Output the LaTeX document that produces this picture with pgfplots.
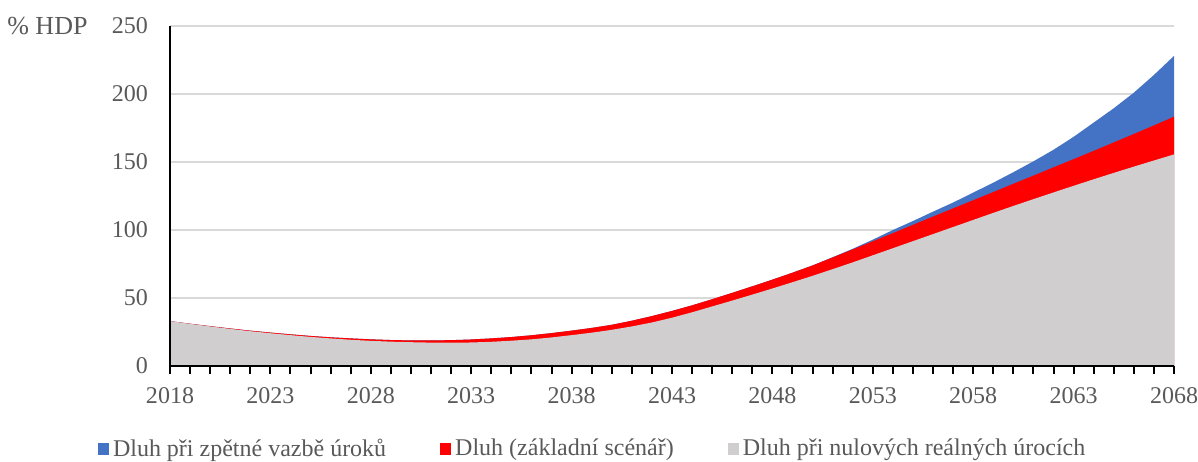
\documentclass[border=0pt]{standalone}
\usepackage{fontspec}
\setmainfont{Liberation Serif}
\usepackage{pgfplots}
\usepackage{pgfplotstable}
\pgfplotsset{compat=1.18}
\definecolor{cblue}{HTML}{4472C4}
\definecolor{cred}{HTML}{FF0000}
\definecolor{cgray}{HTML}{D0CECE}
\definecolor{ctext}{HTML}{595959}
\definecolor{cgrid}{HTML}{D9D9D9}
\pgfplotstableread{
year zero base feedback
2018 33.0 33.0 33.0
2019 31.0 31.1 31.1
2020 29.1 29.3 29.3
2021 27.3 27.6 27.6
2022 25.6 26.0 26.0
2023 24.1 24.6 24.6
2024 22.7 23.3 23.3
2025 21.4 22.1 22.1
2026 20.3 21.1 21.1
2027 19.3 20.3 20.3
2028 18.5 19.6 19.6
2029 17.9 19.1 19.1
2030 17.5 18.8 18.8
2031 17.2 18.8 18.8
2032 17.1 19.0 19.0
2033 17.3 19.5 19.5
2034 17.8 20.3 20.3
2035 18.6 21.3 21.3
2036 19.6 22.6 22.6
2037 21.0 24.2 24.2
2038 22.7 26.0 26.0
2039 24.5 28.0 28.0
2040 26.6 30.3 30.3
2041 29.1 33.3 33.3
2042 32.0 36.7 36.7
2043 35.5 40.5 40.5
2044 39.5 44.6 44.6
2045 43.8 49.1 49.1
2046 48.1 53.8 53.8
2047 52.5 58.6 58.6
2048 57.0 63.5 63.5
2049 61.6 68.6 68.6
2050 66.3 73.9 74.0
2051 71.2 79.8 80.0
2052 76.2 85.7 86.2
2053 81.4 91.7 92.9
2054 86.6 97.7 100.0
2055 91.8 103.8 106.6
2056 97.0 109.9 113.5
2057 102.2 115.9 120.2
2058 107.4 121.9 127.5
2059 112.6 127.9 134.8
2060 117.7 134.0 142.5
2061 122.7 140.0 150.5
2062 127.6 146.1 159.0
2063 132.5 152.1 168.5
2064 137.3 158.2 179.0
2065 142.0 164.4 189.5
2066 146.6 170.6 201.0
2067 151.1 176.9 214.0
2068 155.6 183.3 228.0
}\debt
\begin{document}
\begin{tikzpicture}
\path[use as bounding box] (-85pt,-47.5pt) rectangle (514pt,183pt);
\begin{axis}[
  at={(0pt,0pt)}, anchor=origin,
  scale only axis,
  width=502pt, height=170pt,
  xmin=2018, xmax=2068, ymin=0, ymax=250,
  axis x line=bottom, axis y line=left,
  axis line style={-, black, line width=1.2pt},
  xtick={2018,2023,...,2068},
  minor x tick num=4,
  ytick={0,50,...,250},
  tick align=outside,
  major tick length=4pt, minor tick length=4pt,
  xtick style={black, line width=1pt},
  minor x tick style={black, line width=1pt},
  ytick style={draw=none},
  ymajorgrids,
  grid style={cgrid, line width=0.8pt},
  /pgf/number format/assume math mode=true,
  /pgf/number format/1000 sep={},
  ticklabel style={font=\fontsize{12}{14}\selectfont, text=ctext},
  xticklabel style={yshift=-3pt},
  yticklabel style={xshift=-3.5pt},
  legend style={at={(0.422,-0.244)}, anchor=center, draw=none, fill=none,
    legend columns=3, font=\fontsize{12}{14}\selectfont, text=ctext,
    /tikz/every even column/.append style={column sep=25pt},
    inner sep=0pt},
  legend cell align=left,
  legend image code/.code={\fill[#1] (0pt,-3pt) rectangle (5.5pt,3pt);},
  clip=false,
]
\addplot[fill=cblue, draw=none] table[x=year, y=feedback] {\debt} \closedcycle;
\addlegendentry{Dluh při zpětné vazbě úroků}
\addplot[fill=cred, draw=none] table[x=year, y=base] {\debt} \closedcycle;
\addlegendentry{Dluh (základní scénář)}
\addplot[fill=cgray, draw=none] table[x=year, y=zero] {\debt} \closedcycle;
\addlegendentry{Dluh při nulových reálných úrocích}
\draw[black, line width=1.2pt] (rel axis cs:0,0) -- (rel axis cs:1,0);
\draw[black, line width=1.2pt] (rel axis cs:0,0) -- (rel axis cs:0,1);
\node[anchor=east, text=ctext, font=\fontsize{13}{15}\selectfont, xshift=-37.7pt] at (rel axis cs:0,1) {\% HDP};
\end{axis}
\end{tikzpicture}
\end{document}
